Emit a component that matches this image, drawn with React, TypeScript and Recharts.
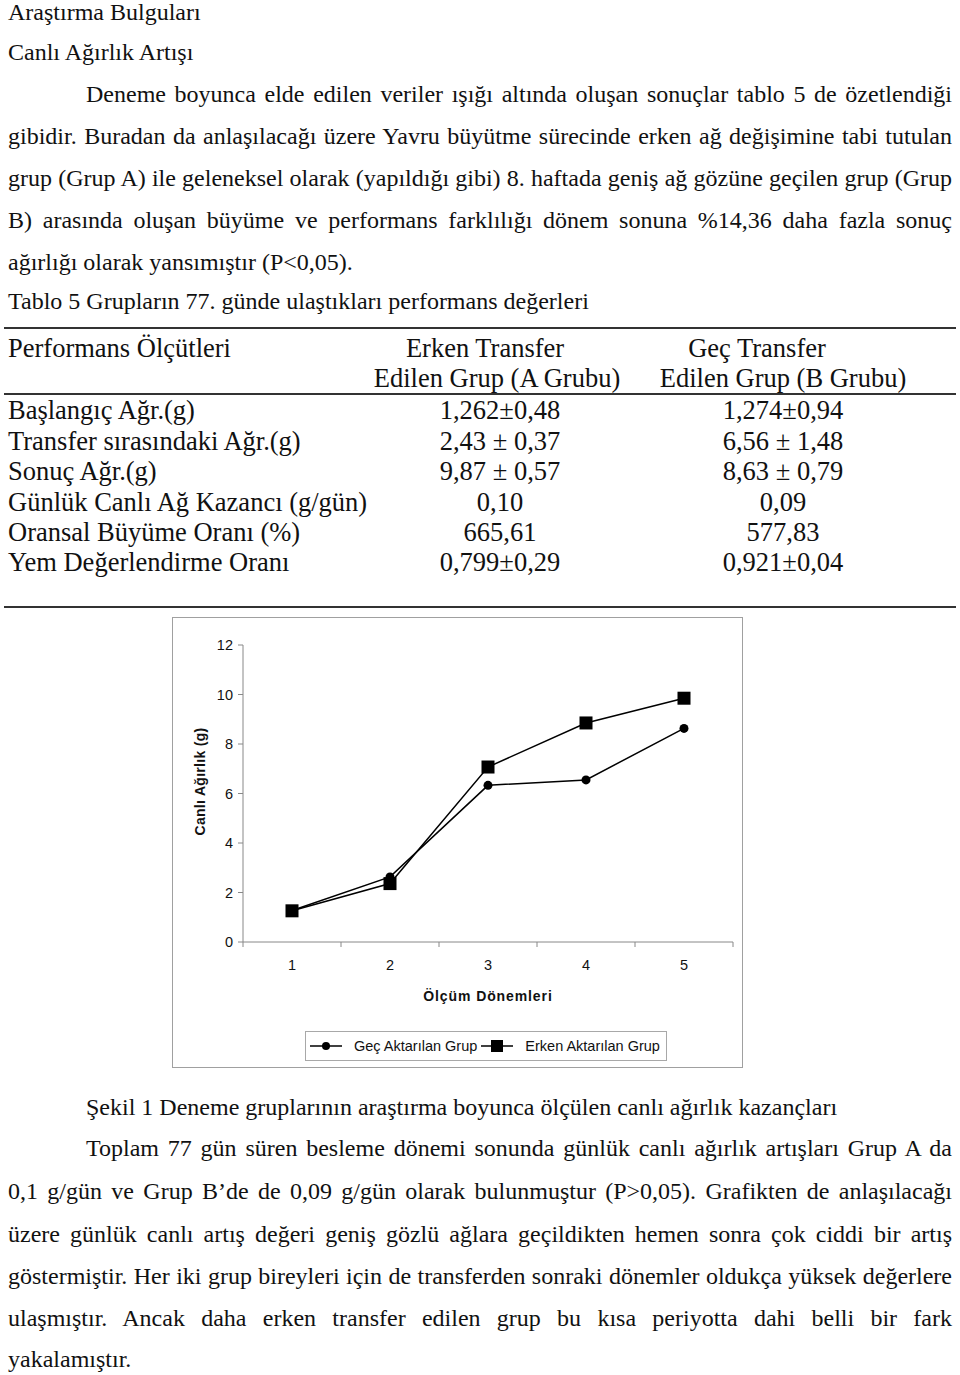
import React from 'react';
import { LineChart, Line, XAxis, YAxis, Legend } from 'recharts';

// ---- Chart data ----
const periods = [1, 2, 3, 4, 5];
const gecAktarilan = [1.27, 2.63, 6.33, 6.55, 8.63];
const erkenAktarilan = [1.26, 2.36, 7.07, 8.85, 9.85];
const yTicks = [0, 2, 4, 6, 8, 10, 12];
const xTicks = [0.5, 1, 1.5, 2, 2.5, 3, 3.5, 4, 4.5, 5, 5.5];
const seriesNames = ['Geç Aktarılan Grup', 'Erken Aktarılan Grup'];
const yAxisTitle = 'Canlı Ağırlık (g)';
const xAxisTitle = 'Ölçüm Dönemleri';

// ---- Table data ----
const tableColHeads = ['Performans Ölçütleri', 'Erken Transfer', 'Edilen Grup (A Grubu)', 'Geç Transfer', 'Edilen Grup (B Grubu)'];
const tableRowLabels = [
  'Başlangıç Ağr.(g)',
  'Transfer sırasındaki Ağr.(g)',
  'Sonuç Ağr.(g)',
  'Günlük Canlı Ağ Kazancı (g/gün)',
  'Oransal Büyüme Oranı (%)',
  'Yem Değerlendirme Oranı',
];
const tableGroupA = ['1,262±0,48', '2,43 ± 0,37', '9,87 ± 0,57', '0,10', '665,61', '0,799±0,29'];
const tableGroupB = ['1,274±0,94', '6,56 ± 1,48', '8,63 ± 0,79', '0,09', '577,83', '0,921±0,04'];

const chartData = periods.map((p, i) => ({ period: p, gec: gecAktarilan[i], erken: erkenAktarilan[i] }));

const SERIF = '"Liberation Serif", "Times New Roman", serif';
const SANS = '"Liberation Sans", Arial, sans-serif';
const BODY_FS = 24;
const TABLE_FS = 26.5;

type LineProps = { text: string; left: number; cy: number; justify?: boolean; fs?: number };
const TextLine = ({ text, left, cy, justify, fs = BODY_FS }: LineProps) => (
  <div
    style={{
      position: 'absolute',
      left,
      top: cy - 15,
      width: justify ? 952 - left : undefined,
      height: 30,
      lineHeight: '30px',
      fontFamily: SERIF,
      fontSize: fs,
      color: '#111',
      whiteSpace: justify ? 'normal' : 'nowrap',
      textAlign: justify ? 'justify' : 'left',
      textAlignLast: justify ? 'justify' : 'auto',
      overflow: 'visible',
    }}
  >
    {text}
  </div>
);

const CenterText = ({ text, cx, cy, fs = TABLE_FS }: { text: string; cx: number; cy: number; fs?: number }) => (
  <div
    style={{
      position: 'absolute',
      left: cx - 200,
      width: 400,
      top: cy - 15,
      height: 30,
      lineHeight: '30px',
      textAlign: 'center',
      fontFamily: SERIF,
      fontSize: fs,
      color: '#111',
      whiteSpace: 'nowrap',
    }}
  >
    {text}
  </div>
);

const HRule = ({ y }: { y: number }) => (
  <div style={{ position: 'absolute', left: 4, width: 952, top: y - 1, height: 2, background: '#333' }} />
);

const XTick = (props: any) => {
  const { x, y, payload } = props;
  const v = payload.value as number;
  if (Number.isInteger(v)) {
    return (
      <text x={x} y={y} dy={13} textAnchor="middle" fontFamily={SANS} fontSize={14.5} fill="#111">
        {v}
      </text>
    );
  }
  const axisY = y - 15;
  return <line x1={x} x2={x} y1={axisY} y2={axisY + 5} stroke="#888" strokeWidth={1} />;
};

const SquareDot = (props: any) => {
  const { cx, cy, index } = props;
  if (cx == null || cy == null) return null;
  return <rect key={`sq-${index}`} x={cx - 6.5} y={cy - 6.5} width={13} height={13} fill="#000" />;
};

const LegendContent = (props: any) => {
  const payload = [...(props.payload || [])].sort(
    (a: any, b: any) => seriesNames.indexOf(a.value) - seriesNames.indexOf(b.value)
  );
  return (
    <div
      style={{
        width: 362,
        height: 30,
        boxSizing: 'border-box',
        border: '1px solid #a8a8a8',
        background: '#fff',
        display: 'flex',
        alignItems: 'center',
        paddingLeft: 4,
        fontFamily: SANS,
        fontSize: 14.5,
        color: '#111',
      }}
    >
      {payload.map((item: any, i: number) => (
        <div key={i} style={{ display: 'flex', alignItems: 'center', marginRight: 4 }}>
          <svg width={32} height={14}>
            <line x1={0} x2={32} y1={7} y2={7} stroke="#000" strokeWidth={1.5} />
            {item.dataKey === 'gec' ? (
              <circle cx={16} cy={7} r={4} fill="#000" />
            ) : (
              <rect x={10} y={1} width={12} height={12} fill="#000" />
            )}
          </svg>
          <span style={{ marginLeft: 12, whiteSpace: 'nowrap' }}>{item.value}</span>
        </div>
      ))}
    </div>
  );
};

const Chart = () => (
  <div
    style={{
      position: 'absolute',
      left: 172,
      top: 617,
      width: 571,
      height: 451,
      boxSizing: 'border-box',
      border: '1px solid #a0a0a0',
      background: '#fff',
    }}
  >
    <LineChart width={569} height={449} data={chartData} margin={{ top: 27, right: 9, left: 0, bottom: 95 }}>
      <XAxis
        dataKey="period"
        type="number"
        domain={[0.5, 5.5]}
        ticks={xTicks}
        interval={0}
        height={30}
        tickLine={false}
        tickSize={6}
        tickMargin={9}
        axisLine={{ stroke: '#888' }}
        tick={<XTick />}
        label={(p: any) => {
          const vb = p.viewBox || { x: 70, y: 324, width: 490, height: 30 };
          return (
            <text
              x={vb.x + vb.width / 2}
              y={vb.y + vb.height + 29}
              textAnchor="middle"
              fontFamily={SANS}
              fontWeight="bold"
              fontSize={14}
              letterSpacing={0.9}
              fill="#111"
            >
              {xAxisTitle}
            </text>
          );
        }}
      />
      <YAxis
        type="number"
        domain={[0, 12]}
        ticks={yTicks}
        interval={0}
        width={70}
        tickSize={5}
        tickMargin={5}
        axisLine={{ stroke: '#888' }}
        tickLine={{ stroke: '#888' }}
        tick={{ fontFamily: SANS, fontSize: 14.5, fill: '#111' }}
        label={(p: any) => {
          const vb = p.viewBox || { x: 0, y: 27, width: 70, height: 297 };
          const x = vb.x + 27;
          const y = vb.y + vb.height / 2 - 12;
          return (
            <text
              x={x}
              y={y}
              transform={`rotate(-90, ${x}, ${y})`}
              textAnchor="middle"
              dominantBaseline="central"
              fontFamily={SANS}
              fontWeight="bold"
              fontSize={14}
              letterSpacing={0.3}
              fill="#111"
            >
              {yAxisTitle}
            </text>
          );
        }}
      />
      <Legend
        layout="horizontal"
        verticalAlign="middle"
        align="center"
        content={<LegendContent />}
        wrapperStyle={{ position: 'absolute', left: 132, top: 413, width: 362, height: 30 }}
      />
      <Line
        dataKey="gec"
        name={seriesNames[0]}
        stroke="#000"
        strokeWidth={1.5}
        dot={{ r: 4.5, fill: '#000', stroke: '#000', strokeWidth: 0 }}
        isAnimationActive={false}
      />
      <Line
        dataKey="erken"
        name={seriesNames[1]}
        stroke="#000"
        strokeWidth={1.5}
        dot={<SquareDot />}
        isAnimationActive={false}
      />
    </LineChart>
  </div>
);

export default function App() {
  const rowYs = [410, 441, 471, 502, 532, 562];
  return (
    <div style={{ position: 'absolute', left: 0, top: 0, width: 960, height: 1375, background: '#fff', overflow: 'hidden' }}>
      <TextLine text="Araştırma Bulguları" left={8} cy={12} />
      <TextLine text="Canlı Ağırlık Artışı" left={8} cy={52} />
      <TextLine text="Deneme boyunca elde edilen veriler ışığı altında oluşan sonuçlar tablo 5 de özetlendiği" left={86} cy={94} justify />
      <TextLine text="gibidir. Buradan da anlaşılacağı üzere Yavru büyütme sürecinde erken ağ değişimine tabi tutulan" left={8} cy={136} justify />
      <TextLine text="grup (Grup A) ile geleneksel olarak (yapıldığı gibi) 8. haftada geniş ağ gözüne geçilen grup (Grup" left={8} cy={178} justify />
      <TextLine text="B) arasında oluşan büyüme ve performans farklılığı dönem sonuna %14,36 daha fazla sonuç" left={8} cy={220} justify />
      <TextLine text="ağırlığı olarak yansımıştır (P<0,05)." left={8} cy={262} />
      <TextLine text="Tablo 5 Grupların 77. günde ulaştıkları performans değerleri" left={8} cy={301} />

      <HRule y={328} />
      <TextLine text={tableColHeads[0]} left={8} cy={348} fs={TABLE_FS} />
      <CenterText text={tableColHeads[1]} cx={485} cy={348} />
      <CenterText text={tableColHeads[2]} cx={497} cy={378} />
      <CenterText text={tableColHeads[3]} cx={757} cy={348} />
      <CenterText text={tableColHeads[4]} cx={783} cy={378} />
      <HRule y={394} />
      {tableRowLabels.map((label, i) => (
        <React.Fragment key={label}>
          <TextLine text={label} left={8} cy={rowYs[i]} fs={TABLE_FS} />
          <CenterText text={tableGroupA[i]} cx={500} cy={rowYs[i]} />
          <CenterText text={tableGroupB[i]} cx={783} cy={rowYs[i]} />
        </React.Fragment>
      ))}
      <HRule y={607} />

      <Chart />

      <TextLine text="Şekil 1 Deneme gruplarının araştırma boyunca ölçülen canlı ağırlık kazançları" left={86} cy={1107} />
      <TextLine text="Toplam 77 gün süren besleme dönemi sonunda günlük canlı ağırlık artışları Grup A da" left={86} cy={1148} justify />
      <TextLine text="0,1 g/gün ve Grup B’de de 0,09 g/gün olarak bulunmuştur (P>0,05). Grafikten de anlaşılacağı" left={8} cy={1191} justify />
      <TextLine text="üzere günlük canlı artış değeri geniş gözlü ağlara geçildikten hemen sonra çok ciddi bir artış" left={8} cy={1234} justify />
      <TextLine text="göstermiştir. Her iki grup bireyleri için de transferden sonraki dönemler oldukça yüksek değerlere" left={8} cy={1276} justify />
      <TextLine text="ulaşmıştır. Ancak daha erken transfer edilen grup bu kısa periyotta dahi belli bir fark" left={8} cy={1318} justify />
      <TextLine text="yakalamıştır." left={8} cy={1359} />
    </div>
  );
}
